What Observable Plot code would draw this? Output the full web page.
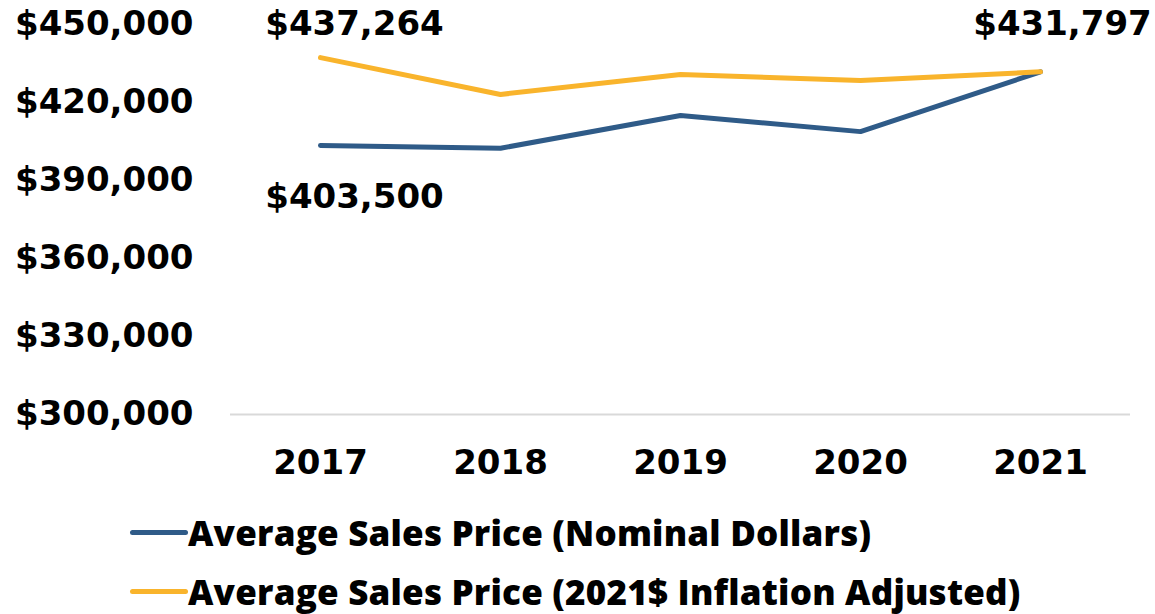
<!DOCTYPE html>
<html>
<head>
<meta charset="utf-8">
<script src="https://cdn.jsdelivr.net/npm/d3@7"></script>
<script src="https://cdn.jsdelivr.net/npm/@observablehq/plot@0.6"></script>
<style>
  html, body { margin: 0; padding: 0; background: #fff; }
  body { width: 1155px; height: 614px; overflow: hidden; font-family: "Open Sans", sans-serif; }
  #legend { position: relative; height: 114px; }
  .item { position: absolute; left: 130px; display: flex; align-items: center; font-weight: 800; font-size: 35px; letter-spacing: 0.2px; color: #000; white-space: nowrap; }
  .swatch { width: 58px; height: 5px; border-radius: 3px; }
</style>
</head>
<body>
<div id="chart"></div>
<div id="legend"></div>
<script>
const years = ["2017", "2018", "2019", "2020", "2021"];
const nominal = [403500, 402400, 415000, 408800, 431797];
const adjusted = [437264, 423100, 430800, 428500, 431797];
const seriesNames = ["Average Sales Price (Nominal Dollars)", "Average Sales Price (2021$ Inflation Adjusted)"];
const colors = ["#2F5B88", "#F9B42C"];
const yTicks = [300000, 330000, 360000, 390000, 420000, 450000];

const data = [];
years.forEach((y, i) => {
  data.push({year: y, value: nominal[i], series: seriesNames[0]});
  data.push({year: y, value: adjusted[i], series: seriesNames[1]});
});
const fmt = d => "$" + d3.format(",")(d);
const labels = [
  {year: years[0], value: adjusted[0]},
  {year: years[0], value: nominal[0]},
  {year: years[4], value: adjusted[4]}
];

const FS = 34;
const FF = "DejaVu Sans, sans-serif";
const chart = Plot.plot({
  width: 1155,
  height: 500,
  marginLeft: 230,
  marginRight: 25,
  marginTop: 24,
  marginBottom: 86,
  style: {fontFamily: FF, fontSize: FS + "px", fontWeight: 700, color: "#000", background: "#fff"},
  x: {type: "point", domain: years, padding: 0.5, label: null},
  y: {domain: [300000, 450000], ticks: yTicks, label: null},
  color: {domain: seriesNames, range: colors},
  marks: [
    Plot.ruleY([300000], {stroke: "#d9d9d9", strokeWidth: 2}),
    Plot.axisY({ticks: yTicks, tickFormat: fmt, tickSize: 0, tickPadding: 37, label: null, fontSize: FS, fontWeight: 700}),
    Plot.axisX({tickSize: 0, tickPadding: 35, label: null, fontSize: FS, fontWeight: 700}),
    Plot.line(data, {x: "year", y: "value", z: "series", stroke: "series", strokeWidth: 5, strokeLinecap: "round", strokeLinejoin: "round"}),
    Plot.text([labels[0]], {x: "year", y: () => 450000, text: d => fmt(d.value), dx: 34, fontSize: FS, fontWeight: 700, fill: "#000"}),
    Plot.text([labels[1]], {x: "year", y: "value", text: d => fmt(d.value), dx: 34, dy: 52, fontSize: FS, fontWeight: 700, fill: "#000"}),
    Plot.text([labels[2]], {x: "year", y: "value", text: d => fmt(d.value), dx: 22, dy: -48, fontSize: FS, fontWeight: 700, fill: "#000"})
  ]
});
document.getElementById("chart").appendChild(chart);

const legend = document.getElementById("legend");
seriesNames.forEach((name, i) => {
  const item = document.createElement("div");
  item.className = "item";
  item.style.top = (i === 0 ? 9 : 68) + "px";
  const sw = document.createElement("div");
  sw.className = "swatch";
  sw.style.background = colors[i];
  const tx = document.createElement("span");
  tx.textContent = name;
  item.appendChild(sw);
  item.appendChild(tx);
  legend.appendChild(item);
});
</script>
</body>
</html>
